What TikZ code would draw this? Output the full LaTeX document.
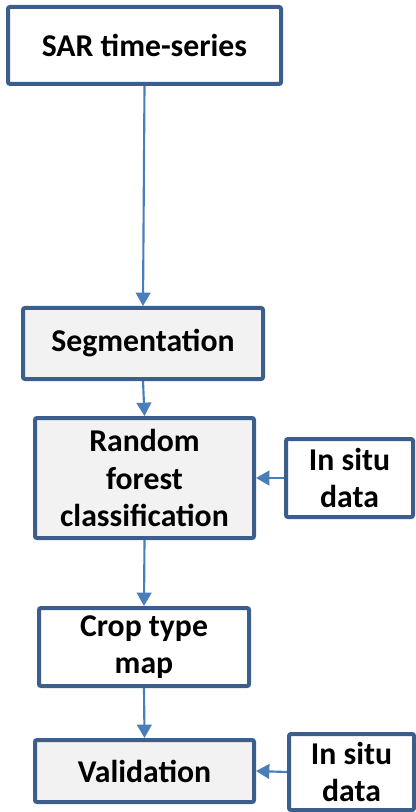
\documentclass[tikz,border=0pt]{standalone}
\usepackage{fontspec}
\setmainfont{Carlito}
\usetikzlibrary{arrows.meta}
\definecolor{boxblue}{HTML}{3B5E8C}
\definecolor{arrowblue}{HTML}{4A7EBB}
\definecolor{boxgray}{HTML}{F2F2F2}
\tikzset{
  stepbox/.style={draw=boxblue, line width=3pt, rounded corners=1.5pt, align=center,
    font=\fontsize{23.8pt}{28pt}\selectfont\bfseries, inner sep=0pt, fill=white},
  graybox/.style={stepbox, fill=boxgray},
  flow/.style={draw=arrowblue, line width=1.6pt, -{Triangle[length=10pt,width=11pt]}}
}
\begin{document}
\begin{tikzpicture}[x=0.75pt,y=-0.75pt]
\useasboundingbox (0,0) rectangle (416,812);
\clip (0,0) rectangle (416,812);
\node[stepbox, minimum width=273*0.75pt, minimum height=77*0.75pt] (sar) at (144.5,45.5) {SAR time-series};
\node[graybox, minimum width=240*0.75pt, minimum height=71*0.75pt] (seg) at (143,343.5) {Segmentation};
\node[graybox, minimum width=219*0.75pt, minimum height=120*0.75pt] (rf) at (144.5,478) {Random\\forest\\classification};
\node[stepbox, minimum width=127*0.75pt, minimum height=78*0.75pt] (is1) at (349.5,478) {In situ\\data};
\node[stepbox, minimum width=210*0.75pt, minimum height=78*0.75pt] (crop) at (144,647) {Crop type\\map};
\node[graybox, minimum width=219*0.75pt, minimum height=62*0.75pt] (val) at (144.5,771) {Validation};
\node[stepbox, minimum width=125*0.75pt, minimum height=76*0.75pt] (is2) at (351.5,772) {In situ\\data};
\draw[flow] (sar.south) -- (seg.north);
\draw[flow] (seg.south) -- (rf.north);
\draw[flow] (rf.south) -- (crop.north);
\draw[flow] (crop.south) -- (val.north);
\draw[flow] (is1.west) -- (rf.east);
\draw[flow] (is2.west) -- (val.east);
\end{tikzpicture}
\end{document}
